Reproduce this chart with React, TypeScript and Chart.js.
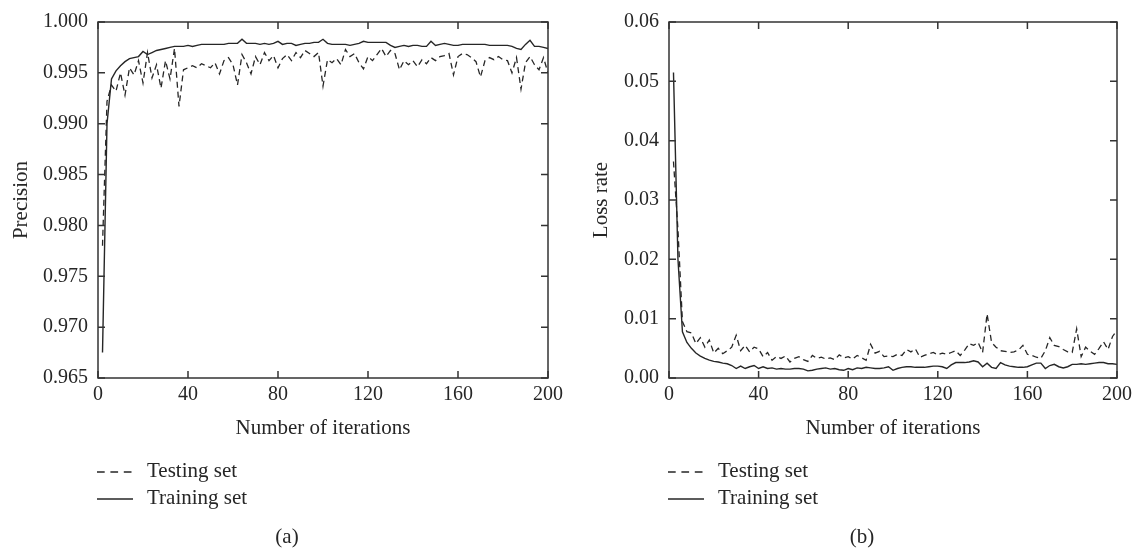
import React, { useEffect, useRef } from "react";
import { Chart, registerables } from "chart.js";

Chart.register(...registerables);

const FONT = "'Liberation Serif', 'Times New Roman', 'DejaVu Serif', serif";
const INK = "#262626";

const iterations = [
  2, 4, 6, 8, 10, 12, 14, 16, 18, 20, 22, 24, 26, 28, 30, 32, 34, 36, 38, 40,
  42, 44, 46, 48, 50, 52, 54, 56, 58, 60, 62, 64, 66, 68, 70, 72, 74, 76, 78, 80,
  82, 84, 86, 88, 90, 92, 94, 96, 98, 100, 102, 104, 106, 108, 110, 112, 114, 116, 118, 120,
  122, 124, 126, 128, 130, 132, 134, 136, 138, 140, 142, 144, 146, 148, 150, 152, 154, 156, 158, 160,
  162, 164, 166, 168, 170, 172, 174, 176, 178, 180, 182, 184, 186, 188, 190, 192, 194, 196, 198, 200,
];

const precisionTesting = [
  0.978, 0.9922, 0.9938, 0.9932, 0.995, 0.9928, 0.9955, 0.9948, 0.9962, 0.994,
  0.997, 0.9945, 0.9958, 0.9935, 0.9962, 0.9944, 0.9974, 0.9917, 0.9953, 0.9955,
  0.9957, 0.9955, 0.9959, 0.9957, 0.9955, 0.996, 0.9949, 0.9962, 0.9965, 0.9958,
  0.9938, 0.9968, 0.996, 0.9949, 0.9966, 0.9958, 0.997, 0.9962, 0.9967, 0.9955,
  0.9964, 0.9968, 0.9962, 0.997, 0.9965, 0.9972, 0.9969, 0.9966, 0.997, 0.9937,
  0.9963, 0.996, 0.9964, 0.9958, 0.9973, 0.9966, 0.9969, 0.996, 0.9954, 0.9966,
  0.9962, 0.9968, 0.9974, 0.9966, 0.9972, 0.9969, 0.9953, 0.9962, 0.9958, 0.9962,
  0.9956, 0.9963, 0.9959, 0.9965, 0.9962, 0.9966, 0.9967, 0.9969, 0.9948, 0.9966,
  0.9969, 0.9968, 0.9965, 0.9961, 0.9946, 0.9962, 0.9965, 0.9963, 0.9966, 0.9963,
  0.9962, 0.995, 0.9965, 0.9934, 0.996, 0.9966, 0.9958, 0.9953, 0.9965, 0.995,
];

const precisionTraining = [
  0.9675, 0.99, 0.9944, 0.9952, 0.9957, 0.9961, 0.9964, 0.9965, 0.9966, 0.9971,
  0.9968, 0.997, 0.9972, 0.9973, 0.9974, 0.9975, 0.9976, 0.9976, 0.9976, 0.9977,
  0.9976, 0.9977, 0.9978, 0.9978, 0.9978, 0.9978, 0.9978, 0.9978, 0.9979, 0.9979,
  0.9979, 0.9983, 0.9979, 0.9979, 0.9979, 0.9978, 0.9979, 0.9978, 0.9979, 0.9981,
  0.9978, 0.9979, 0.9979, 0.9977, 0.9978, 0.9979, 0.9979, 0.998, 0.998, 0.9983,
  0.9979, 0.9978, 0.9978, 0.9978, 0.9978, 0.9977, 0.9978, 0.9979, 0.9981, 0.998,
  0.998, 0.998, 0.998, 0.998, 0.9977, 0.9975, 0.9976, 0.9977, 0.9976, 0.9977,
  0.9977, 0.9976, 0.9976, 0.9981, 0.9977, 0.9978, 0.9979, 0.9978, 0.9977, 0.9977,
  0.9978, 0.9978, 0.9978, 0.9978, 0.9978, 0.9978, 0.9977, 0.9977, 0.9977, 0.9977,
  0.9977, 0.9976, 0.9974, 0.9973, 0.9978, 0.9982, 0.9976, 0.9976, 0.9975, 0.9974,
];

const lossTesting = [
  0.0365, 0.025, 0.0095, 0.0078, 0.0076, 0.0058, 0.0068, 0.0052, 0.0064, 0.0042,
  0.005, 0.0041, 0.0046, 0.0052, 0.0072, 0.0046, 0.0055, 0.0044, 0.0052, 0.0049,
  0.0036, 0.0043, 0.003, 0.0036, 0.0033, 0.0037, 0.0027, 0.0033, 0.0036, 0.0031,
  0.0028, 0.0038, 0.0033, 0.0035, 0.0032, 0.0034, 0.0031, 0.0039, 0.0034, 0.0036,
  0.0032, 0.0038, 0.0034, 0.003, 0.0057, 0.0042, 0.0045, 0.0036, 0.0037, 0.0036,
  0.004, 0.0038, 0.0048, 0.0044, 0.0049, 0.0035, 0.0038, 0.0041, 0.0043, 0.0039,
  0.0042, 0.004, 0.0043, 0.0046, 0.0038, 0.0047, 0.0058, 0.0055, 0.006, 0.0043,
  0.0108, 0.006, 0.0052, 0.0046, 0.0045, 0.0043, 0.0044, 0.0047, 0.0055, 0.004,
  0.0038, 0.0035, 0.0033, 0.0046, 0.0068, 0.0055, 0.0053, 0.0048, 0.0044, 0.0043,
  0.0083, 0.0036, 0.0052, 0.0045, 0.004, 0.005, 0.0061, 0.0048, 0.007, 0.008,
];

const lossTraining = [
  0.0515, 0.02, 0.0078, 0.006, 0.005, 0.0042, 0.0037, 0.0033, 0.003, 0.0028,
  0.0027, 0.0025, 0.0024, 0.0021, 0.0016, 0.002, 0.0016, 0.0019, 0.0021, 0.0016,
  0.0019, 0.0016, 0.0017, 0.0015, 0.0016, 0.0015, 0.0015, 0.0016, 0.0016, 0.0015,
  0.0012, 0.0013, 0.0015, 0.0016, 0.0017, 0.0015, 0.0016, 0.0014, 0.0013, 0.0016,
  0.0014, 0.0017, 0.0016, 0.0018, 0.0017, 0.0016, 0.0016, 0.0017, 0.0019, 0.0013,
  0.0016, 0.0018, 0.0019, 0.0019, 0.0018, 0.0018, 0.0018, 0.0019, 0.002, 0.002,
  0.0019, 0.0016, 0.0022, 0.0026, 0.0026, 0.0026, 0.0027, 0.0029, 0.0027, 0.0019,
  0.0025, 0.0018, 0.0016, 0.0026, 0.0022, 0.002, 0.0019, 0.0018, 0.0018, 0.0019,
  0.0022, 0.0025, 0.0025, 0.0016, 0.0021, 0.0023, 0.0019, 0.0017, 0.0019, 0.0023,
  0.0023, 0.0024, 0.0023, 0.0024, 0.0025, 0.0026, 0.0026, 0.0024, 0.0024, 0.0023,
];

const legendLabels = ["Testing set", "Training set"];
const xTitle = "Number of iterations";

type PanelProps = {
  testing: number[];
  training: number[];
  yMin: number;
  yMax: number;
  yStep: number;
  decimals: number;
  yTitle: string;
  caption: string;
  width: number;
  yAxisWidth: number;
  yTitleOffset: number;
  rightPad: number;
  legendX: number;
  captionX: number;
};

function Panel(p: PanelProps) {
  const ref = useRef<HTMLCanvasElement | null>(null);
  useEffect(() => {
    if (!ref.current) return;
    const overlay = {
      id: "frameLegend",
      afterDatasetsDraw(chart: any) {
        const { ctx, chartArea: a, scales } = chart;
        ctx.save();
        ctx.strokeStyle = "#333";
        ctx.lineWidth = 1.5;
        ctx.setLineDash([]);
        ctx.strokeRect(a.left, a.top, a.right - a.left, a.bottom - a.top);
        const tl = 7;
        ctx.beginPath();
        scales.x.ticks.forEach((t: any) => {
          const px = scales.x.getPixelForValue(t.value);
          ctx.moveTo(px, a.bottom);
          ctx.lineTo(px, a.bottom - tl);
          ctx.moveTo(px, a.top);
          ctx.lineTo(px, a.top + tl);
        });
        scales.y.ticks.forEach((t: any) => {
          const py = scales.y.getPixelForValue(t.value);
          ctx.moveTo(a.left, py);
          ctx.lineTo(a.left + tl, py);
          ctx.moveTo(a.right, py);
          ctx.lineTo(a.right - tl, py);
        });
        ctx.stroke();

        // legend
        const rows = [471, 498];
        ctx.strokeStyle = INK;
        ctx.lineWidth = 1.3;
        ctx.beginPath();
        ctx.setLineDash([7.7, 5.7]);
        ctx.moveTo(p.legendX, rows[0] + 1);
        ctx.lineTo(p.legendX + 36, rows[0] + 1);
        ctx.stroke();
        ctx.beginPath();
        ctx.setLineDash([]);
        ctx.moveTo(p.legendX, rows[1] + 1);
        ctx.lineTo(p.legendX + 36, rows[1] + 1);
        ctx.stroke();
        ctx.fillStyle = INK;
        ctx.font = `21px ${FONT}`;
        ctx.textAlign = "left";
        ctx.textBaseline = "middle";
        ctx.fillText(legendLabels[0], p.legendX + 50, rows[0]);
        ctx.fillText(legendLabels[1], p.legendX + 50, rows[1]);
        ctx.textAlign = "center";
        ctx.fillText(p.caption, p.captionX, 537);
        ctx.restore();
      },
    };
    const chart = new Chart(ref.current, {
      type: "line",
      data: {
        datasets: [
          {
            label: legendLabels[0],
            data: iterations.map((x, i) => ({ x, y: p.testing[i] })),
            borderColor: INK,
            borderWidth: 1.3,
            borderDash: [6, 4],
            pointRadius: 0,
            tension: 0,
            fill: false,
          },
          {
            label: legendLabels[1],
            data: iterations.map((x, i) => ({ x, y: p.training[i] })),
            borderColor: INK,
            borderWidth: 1.4,
            pointRadius: 0,
            tension: 0,
            fill: false,
          },
        ],
      },
      options: {
        animation: false,
        responsive: false,
        devicePixelRatio: 1,
        layout: { padding: { top: 14, right: p.rightPad, left: 0, bottom: 0 } },
        plugins: { legend: { display: false }, tooltip: { enabled: false } },
        scales: {
          x: {
            type: "linear",
            min: 0,
            max: 200,
            grid: { display: false, drawTicks: false },
            border: { display: false },
            ticks: {
              stepSize: 40,
              padding: 5,
              color: INK,
              font: { family: FONT, size: 20 },
              maxRotation: 0,
            },
            title: {
              display: true,
              text: xTitle,
              color: INK,
              font: { family: FONT, size: 21 },
              padding: { top: 0, bottom: 111 },
            },
            afterFit: (s: any) => {
              s.height = 174;
            },
          },
          y: {
            type: "linear",
            min: p.yMin,
            max: p.yMax,
            grid: { display: false, drawTicks: false },
            border: { display: false },
            ticks: {
              stepSize: p.yStep,
              padding: 10,
              color: INK,
              font: { family: FONT, size: 20 },
              callback: (v: any) => Number(v).toFixed(p.decimals),
            },
            title: {
              display: true,
              text: p.yTitle,
              color: INK,
              font: { family: FONT, size: 21 },
              padding: { top: p.yTitleOffset, bottom: 0 },
            },
            afterFit: (s: any) => {
              s.width = p.yAxisWidth;
            },
          },
        },
      },
      plugins: [overlay],
    } as any);
    return () => chart.destroy();
  }, []);
  return (
    <canvas
      ref={ref}
      width={p.width}
      height={552}
      style={{ display: "block", width: p.width, height: 552 }}
    />
  );
}

export default function App() {
  return (
    <div
      style={{
        position: "absolute",
        left: 0,
        top: 0,
        width: 1137,
        height: 552,
        background: "#fff",
        display: "flex",
      }}
    >
      <Panel
        testing={precisionTesting}
        training={precisionTraining}
        yMin={0.965}
        yMax={1.0}
        yStep={0.005}
        decimals={3}
        yTitle="Precision"
        caption="(a)"
        width={568}
        yAxisWidth={98}
        yTitleOffset={9}
        rightPad={20}
        legendX={97}
        captionX={287}
      />
      <Panel
        testing={lossTesting}
        training={lossTraining}
        yMin={0}
        yMax={0.06}
        yStep={0.01}
        decimals={2}
        yTitle="Loss rate"
        caption="(b)"
        width={569}
        yAxisWidth={101}
        yTitleOffset={21}
        rightPad={18}
        legendX={100}
        captionX={294}
      />
    </div>
  );
}
